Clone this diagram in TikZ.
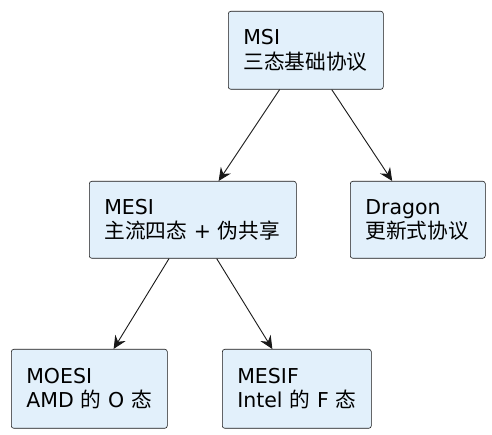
\documentclass[tikz,border=0pt]{standalone}
\usepackage{fontspec}
\usepackage{xcolor}
\usepackage{tikz}
\usetikzlibrary{arrows.meta}
\setmainfont{DejaVu Sans}
\newfontfamily\cjk{Noto Sans CJK SC}[Scale=1.01]
\definecolor{boxfill}{HTML}{E2F0FB}
\definecolor{boxline}{HTML}{181818}

\begin{document}
\begin{tikzpicture}[x=1pt,y=1pt,
    proto/.style={draw=boxline, fill=boxfill, rounded corners=2.5pt, line width=0.6pt,
        anchor=north west, align=left, inner xsep=15pt, inner ysep=0pt,
        font=\fontsize{20.5}{24.5}\selectfont},
    link/.style={-{Stealth[length=13pt,width=12pt,inset=4.5pt]}, line width=0.9pt, draw=boxline}
    ]
        \useasboundingbox (0,0) rectangle (492,435);
        % boxes
        \node[proto, text width=125pt, minimum height=78pt] (msi) at (228,424) {MSI\\{\cjk 三态基础协议}};
        \node[proto, text width=177pt, minimum height=77pt] (mesi) at (89,254) {MESI\\{\cjk 主流四态} + {\cjk 伪共享}};
        \node[proto, text width=105pt, minimum height=77pt] (dragon) at (350,254) {Dragon\\{\cjk 更新式协议}};
        \node[proto, text width=126pt, minimum height=79pt] (moesi) at (11,86) {MOESI\\AMD {\cjk 的} O {\cjk 态}};
        \node[proto, text width=119pt, minimum height=79pt] (mesif) at (222,86) {MESIF\\\mbox{Intel {\cjk 的} F {\cjk 态}}};
        % arrows
        \draw[link] (msi) -- (mesi);
        \draw[link] (msi) -- (dragon);
        \draw[link] (mesi) -- (moesi);
        \draw[link] (mesi) -- (mesif);
\end{tikzpicture}
\end{document}
